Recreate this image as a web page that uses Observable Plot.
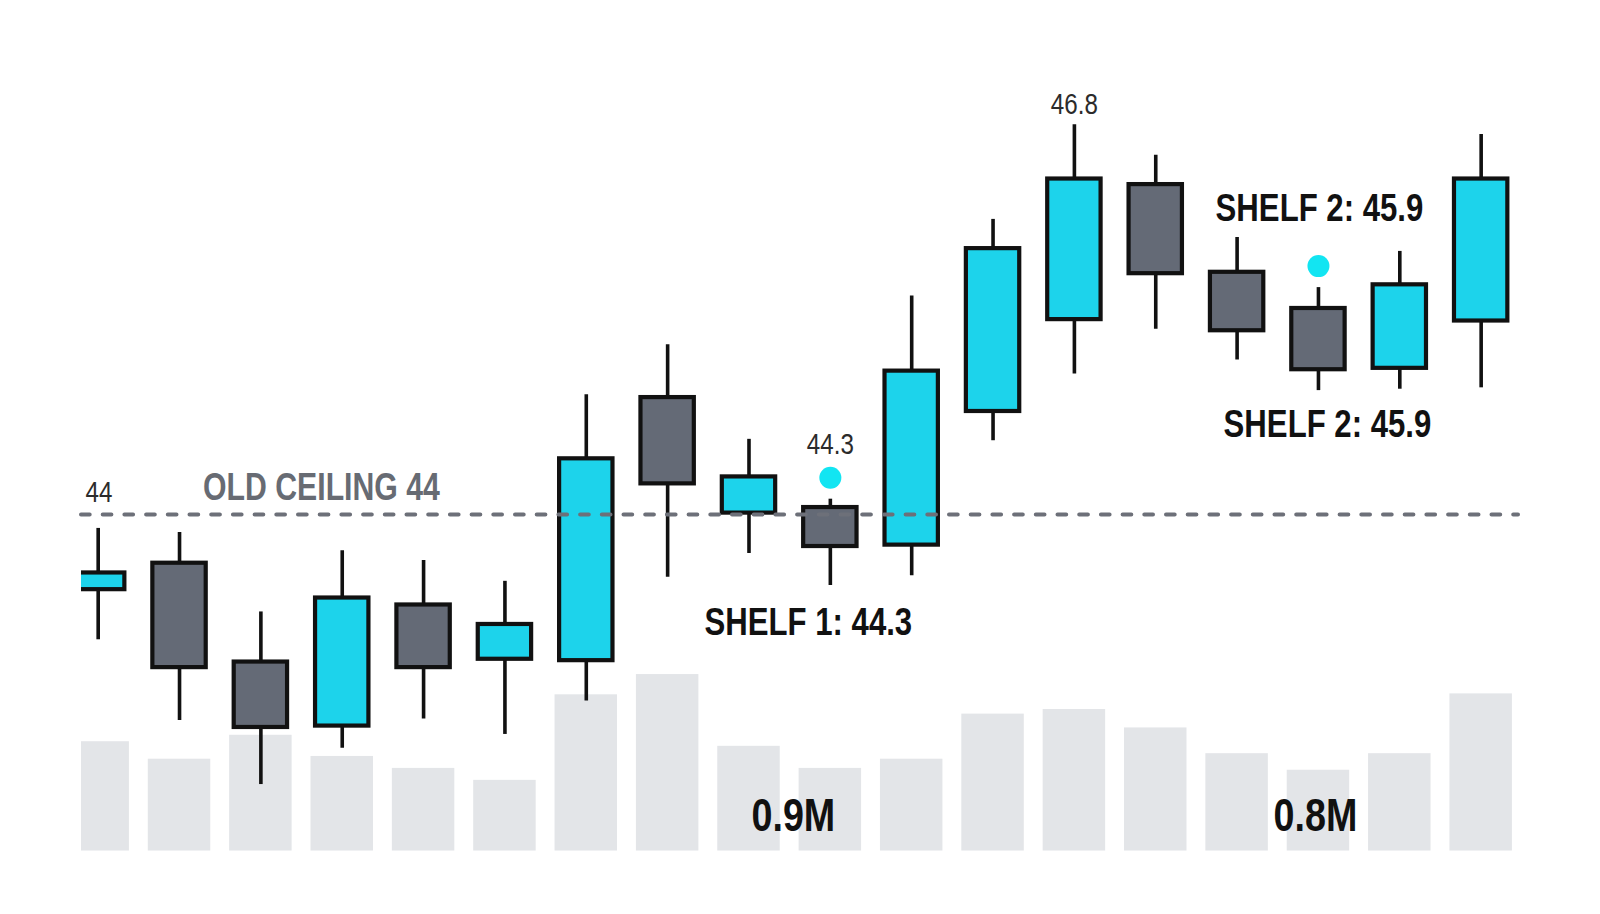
<!DOCTYPE html>
<html>
<head>
<meta charset="utf-8">
<script src="https://cdn.jsdelivr.net/npm/d3@7"></script>
<script src="https://cdn.jsdelivr.net/npm/@observablehq/plot@0.6"></script>
<style>
  html, body { margin: 0; padding: 0; background: #ffffff; }
  #wrap { position: relative; width: 1600px; height: 914px; overflow: hidden; background: #ffffff; }
  #wrap svg { position: absolute; left: 0; top: 0; }
</style>
</head>
<body>
<div id="wrap"></div>
<script>
// ---- data ----
const open   = [43.46, 43.65, 42.94, 42.48, 43.35, 42.96, 42.95, 44.84, 44.01, 44.05, 43.78, 44.74, 45.40, 46.37, 45.74, 45.48, 45.05, 45.39];
const close  = [43.58, 42.90, 42.47, 43.40, 42.90, 43.21, 44.40, 44.22, 44.27, 43.77, 45.03, 45.91, 46.41, 45.73, 45.32, 45.04, 45.65, 46.41];
const high   = [43.90, 43.87, 43.30, 43.74, 43.67, 43.52, 44.86, 45.22, 44.54, 44.11, 45.57, 46.12, 46.80, 46.58, 45.99, 45.63, 45.89, 46.73];
const low    = [43.10, 42.52, 42.06, 42.32, 42.53, 42.42, 42.66, 43.55, 43.72, 43.49, 43.56, 44.53, 45.01, 45.33, 45.11, 44.89, 44.90, 44.91];
const volume = [1.19, 1.00, 1.26, 1.03, 0.90, 0.77, 1.70, 1.92, 1.14, 0.90, 1.00, 1.49, 1.54, 1.34, 1.06, 0.88, 1.06, 1.71]; // millions

const ceilingValue = 44;
const ceilingTick = "44";
const ceilingText = "OLD CEILING 44";
const peakIndex = 12;
const peakText = "46.8";
const shelfIndex = [9, 15];
const shelfValueText = "44.3";
const shelfLabels = ["SHELF 1: 44.3", "SHELF 2: 45.9"];
const volumeLabelIndex = [9, 15];
const volumeLabels = ["0.9M", "0.8M"];

const candles = open.map((o, i) => ({i, open: o, close: close[i], high: high[i], low: low[i], vol: volume[i]}));

const UP = "#1dd3eb", DOWN = "#646a76", INK = "#111111", SOFT = "#2b2b2b";
const FONT = '"Liberation Sans", Arial, sans-serif';
const W = 1600, H = 914;
const xCfg = {domain: [-0.205, 17.459], axis: null};

// ---- volume layer ----
const volText = (j, dx) => Plot.text([candles[volumeLabelIndex[j]]], {
  x: "i", y: 0, text: () => volumeLabels[j], className: "narrow",
  fontSize: 46, fontWeight: 700, fill: INK, lineAnchor: "bottom", dx, dy: -20.5
});
const volPlot = Plot.plot({
  width: W, height: H,
  marginLeft: 81, marginRight: 82, marginTop: 666.7, marginBottom: 63.3,
  x: xCfg,
  y: {domain: [0, 2], axis: null},
  style: {background: "transparent", fontFamily: FONT},
  marks: [
    Plot.rectY(candles, {x1: d => d.i - 0.384, x2: d => d.i + 0.384, y1: 0, y2: "vol", fill: "#e3e5e8", clip: true}),
    volText(0, -37),
    volText(1, -3)
  ]
});

// ---- price layer ----
const pricePlot = Plot.plot({
  width: W, height: H,
  marginLeft: 81, marginRight: 82, marginTop: 0, marginBottom: 0,
  x: xCfg,
  y: {domain: [44 - 400 / 139.2, 44 + 514 / 139.2], axis: null},
  style: {background: "transparent", fontFamily: FONT},
  marks: [
    Plot.ruleX(candles, {x: "i", y1: "low", y2: "high", stroke: INK, strokeWidth: 3.6}),
    Plot.rect(candles, {filter: d => d.close >= d.open, x1: d => d.i - 0.328, x2: d => d.i + 0.328, y1: "open", y2: "close", fill: UP, stroke: INK, strokeWidth: 4.2, clip: true}),
    Plot.rect(candles, {filter: d => d.close < d.open, x1: d => d.i - 0.328, x2: d => d.i + 0.328, y1: "open", y2: "close", fill: DOWN, stroke: INK, strokeWidth: 4.2, clip: true}),
    Plot.ruleY([ceilingValue], {stroke: "#6d7079", strokeWidth: 4, strokeDasharray: "8.7,13", strokeLinecap: "round"}),
    // ceiling labels
    Plot.text([ceilingValue], {x: -0.156, y: d => d, text: () => ceilingTick, className: "narrow", textAnchor: "start", lineAnchor: "bottom", dy: -13, fontSize: 29.5, fill: SOFT}),
    Plot.text([ceilingValue], {x: 1.29, y: d => d, text: () => ceilingText, className: "narrower", textAnchor: "start", lineAnchor: "bottom", dy: -15, fontSize: 39, fontWeight: 700, fill: "#676b73"}),
    // peak label
    Plot.text([candles[peakIndex]], {x: "i", y: "high", text: () => peakText, className: "narrow", lineAnchor: "bottom", dy: -11, fontSize: 29.5, fill: SOFT}),
    // shelf markers
    Plot.dot(shelfIndex.map(k => candles[k]), {x: "i", y: "high", dy: -21.5, r: 11, fill: "#12e5f2", stroke: "none"}),
    Plot.text([candles[shelfIndex[0]]], {x: "i", y: "high", text: () => shelfValueText, className: "narrow", lineAnchor: "bottom", dy: -45, fontSize: 29.5, fill: SOFT}),
    Plot.text([candles[shelfIndex[0]]], {x: "i", y: "low", text: () => shelfLabels[0], className: "narrow", lineAnchor: "bottom", dx: -22, dy: 50, fontSize: 38, fontWeight: 700, fill: INK}),
    Plot.text([candles[shelfIndex[1]]], {x: "i", y: "high", text: () => shelfLabels[1], className: "narrow", lineAnchor: "bottom", dx: 1, dy: -67, fontSize: 38, fontWeight: 700, fill: INK}),
    Plot.text([candles[shelfIndex[1]]], {x: "i", y: "low", text: () => shelfLabels[1], className: "narrow", lineAnchor: "bottom", dx: 9, dy: 46, fontSize: 38, fontWeight: 700, fill: INK})
  ]
});

// condense label glyphs horizontally (narrow sans look), scaling about each anchor point
function condense(svg, sel, k) {
  svg.querySelectorAll(sel + " text").forEach(t => {
    const tr = t.getAttribute("transform") || "";
    const x = t.getAttribute("x"), y = t.getAttribute("y");
    let pre = tr;
    if (x != null || y != null) {
      pre = `${tr} translate(${x || 0},${y || 0})`;
      t.removeAttribute("x"); t.removeAttribute("y");
    }
    t.setAttribute("transform", `${pre} scale(${k},1)`);
  });
}
condense(volPlot, ".narrow", 0.82);
condense(pricePlot, ".narrow", 0.82);
condense(pricePlot, ".narrower", 0.775);

const wrap = document.getElementById("wrap");
wrap.appendChild(volPlot);
wrap.appendChild(pricePlot);
</script>
</body>
</html>
